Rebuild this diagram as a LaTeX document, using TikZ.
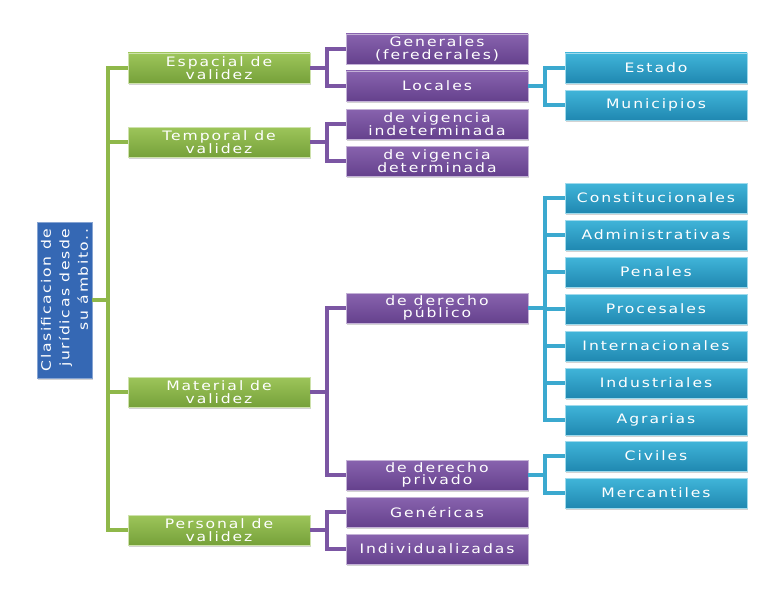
\documentclass[tikz,border=0pt]{standalone}
\usepackage{fontspec}
\setmainfont{DejaVu Sans}
\newfontfamily\boxfont[FakeStretch=1.2,LetterSpace=15]{DejaVu Sans}
\newfontfamily\rootfont[FakeStretch=1.2,LetterSpace=12]{DejaVu Sans}
\usetikzlibrary{shadows}

\definecolor{gtop}{HTML}{9DC55A}
\definecolor{gbot}{HTML}{76A13A}
\definecolor{gline}{HTML}{8FB84A}
\definecolor{ptop}{HTML}{8863AE}
\definecolor{pbot}{HTML}{65418D}
\definecolor{pline}{HTML}{7B56A3}
\definecolor{btop}{HTML}{40B5D9}
\definecolor{bbot}{HTML}{2088B1}
\definecolor{bline}{HTML}{3BA9CF}
\definecolor{rootc}{HTML}{3568B4}

\tikzset{
  box/.style={minimum width=182pt, minimum height=30pt, inner sep=1pt,
    align=center, text=white, line width=0.4pt,
    font=\boxfont\fontsize{13}{12.5}\selectfont,
    drop shadow={shadow xshift=1pt, shadow yshift=-1.5pt, opacity=0.35}},
  greenbox/.style={box, top color=gtop, bottom color=gbot, draw=gtop!50!white},
  purplebox/.style={box, top color=ptop, bottom color=pbot, draw=ptop!50!white},
  bluebox/.style={box, top color=btop, bottom color=bbot, draw=btop!50!white},
  rootbox/.style={minimum width=156pt, minimum height=55pt, inner sep=0pt,
    align=right, text=white, fill=rootc, draw=rootc!60!white,
    font=\rootfont\fontsize{13}{18.5}\selectfont,
    drop shadow={shadow xshift=1pt, shadow yshift=-1.5pt, opacity=0.35}},
  glink/.style={draw=gline, line width=3.5pt},
  plink/.style={draw=pline, line width=3.5pt},
  blink/.style={draw=bline, line width=3.5pt}
}

\begin{document}
\begin{tikzpicture}[x=1pt, y=-1pt]
\useasboundingbox (0,0) rectangle (768,594);

% root
\node[rootbox, rotate=90] (root) at (64.5,300) {Clasificacion de\\jurídicas desde\\su ámbito..};

% first level
\node[greenbox] (esp) at (219,68)  {Espacial de\\validez};
\node[greenbox] (tem) at (219,142) {Temporal de\\validez};
\node[greenbox] (mat) at (219,392) {Material de\\validez};
\node[greenbox] (per) at (219,530) {Personal de\\validez};

% second level
\node[purplebox] (gen)  at (437,49)  {Generales\\(ferederales)};
\node[purplebox] (loc)  at (437,86)  {Locales};
\node[purplebox] (ind)  at (437,124) {de vigencia\\indeterminada};
\node[purplebox] (det)  at (437,161) {de vigencia\\determinada};
\node[purplebox] (pub)  at (437,308) {de derecho\\público};
\node[purplebox] (pri)  at (437,475) {de derecho\\privado};
\node[purplebox] (gnr)  at (437,512) {Genéricas};
\node[purplebox] (indv) at (437,549) {Individualizadas};

% third level
\node[bluebox] (est) at (656,68)  {Estado};
\node[bluebox] (mun) at (656,105) {Municipios};
\node[bluebox] (con) at (656,198) {Constitucionales};
\node[bluebox] (adm) at (656,235) {Administrativas};
\node[bluebox] (pen) at (656,272) {Penales};
\node[bluebox] (pro) at (656,309) {Procesales};
\node[bluebox] (int) at (656,346) {Internacionales};
\node[bluebox] (ins) at (656,383) {Industriales};
\node[bluebox] (agr) at (656,420) {Agrarias};
\node[bluebox] (civ) at (656,456) {Civiles};
\node[bluebox] (mer) at (656,493) {Mercantiles};

% buses
\coordinate (gbus) at (108,0);
\coordinate (pbus) at (327,0);
\coordinate (bbus) at (545,0);

% connectors
\foreach \n in {esp,tem,mat,per}
  \draw[glink] (root.south) -- (root.south -| gbus) |- (\n.west);
\foreach \a/\b in {esp/gen,esp/loc,tem/ind,tem/det,mat/pub,mat/pri,per/gnr,per/indv}
  \draw[plink] (\a.east) -- (\a.east -| pbus) |- (\b.west);
\foreach \a/\b in {loc/est,loc/mun,pub/con,pub/adm,pub/pen,pub/pro,pub/int,pub/ins,pub/agr,pri/civ,pri/mer}
  \draw[blink] (\a.east) -- (\a.east -| bbus) |- (\b.west);
\end{tikzpicture}
\end{document}
